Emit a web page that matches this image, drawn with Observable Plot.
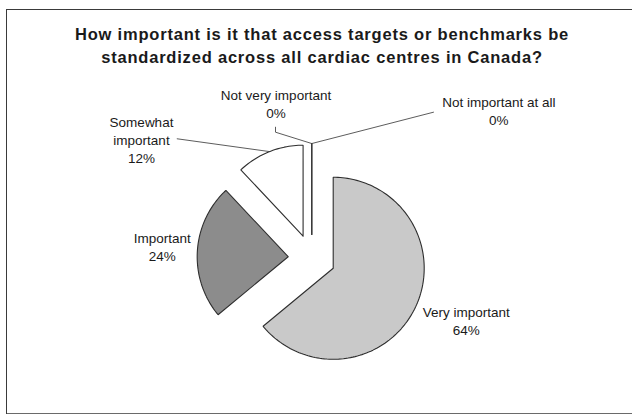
<!DOCTYPE html>
<html>
<head>
<meta charset="utf-8">
<script src="https://cdn.jsdelivr.net/npm/d3@7"></script>
<script src="https://cdn.jsdelivr.net/npm/@observablehq/plot@0.6"></script>
<style>
  html, body { margin: 0; padding: 0; background: #ffffff; overflow: hidden; }
  #page { position: relative; width: 632px; height: 417px; overflow: hidden; font-family: "Liberation Sans", Arial, sans-serif; }
  #hline-top { position: absolute; left: 6px; top: 9px; width: 1000px; height: 0; border-top: 1px solid #3a3a3a; }
  #hline-bottom { position: absolute; left: 6px; top: 413px; width: 1000px; height: 0; border-top: 1px solid #6a6a6a; }
  #vline { position: absolute; left: 6px; top: 9px; width: 0; height: 405px; border-left: 1px solid #3a3a3a; }
  #title { position: absolute; left: 6px; top: 23px; width: 632px; text-align: center; font-weight: bold; font-size: 16.5px; line-height: 23px; letter-spacing: 0.8px; color: #1a1a1a; }
  #chart { position: absolute; left: 0; top: 0; }
</style>
</head>
<body>
<div id="page">
  <div id="hline-top"></div>
  <div id="hline-bottom"></div>
  <div id="vline"></div>
  <div id="title">How important is it that access targets or benchmarks be<br>standardized across all cardiac centres in Canada?</div>
  <div id="chart"></div>
</div>
<script>
// ---- data ----
const categories = ["Very important", "Important", "Somewhat important", "Not very important", "Not important at all"];
const values = [64, 24, 12, 0, 0];
const labelTexts = ["Very important", "Important", "Somewhat\nimportant", "Not very important", "Not important at all"];
const shades = ["#c9c9c9", "#8c8c8c", "#ffffff", "#ffffff", "#ffffff"];

// ---- layout (pixels) ----
const W = 632, H = 417;
const cx = 311.3, cy = 257.7, R = 91;      // pie centre / radius in px
const explode = 0.26;                       // offset of each slice (in radii)
const labelPos = [[465.7, 319.5], [161.7, 246], [141, 139], [275.5, 103], [498.3, 110]];
const leaderStart = [null, null, [[176.7, 138.3]], [[275, 126.7], [275, 131.7]], [[433, 111.7]]];
const U = px => (px - cx) / R, V = py => (cy - py) / R;

// ---- build wedges from values ----
const total = d3.sum(values);
let cum = 0;
const wedgePts = [], tips = [];
categories.forEach((cat, i) => {
  const a0 = cum / total * 2 * Math.PI;
  cum += values[i];
  const a1 = cum / total * 2 * Math.PI;
  const mid = (a0 + a1) / 2;
  const ox = explode * Math.sin(mid), oy = explode * Math.cos(mid);
  wedgePts.push({cat, x: ox, y: oy});
  const n = Math.max(1, Math.ceil((a1 - a0) / (Math.PI / 120)));
  for (let k = 0; k <= n; k++) {
    const a = a0 + (a1 - a0) * k / n;
    wedgePts.push({cat, x: ox + Math.sin(a), y: oy + Math.cos(a)});
  }
  wedgePts.push({cat, x: ox, y: oy});
  tips.push({x: ox + Math.sin(mid), y: oy + Math.cos(mid)});
});

// leader lines: from label to the slice's outer mid-point
const leaders = [];
leaderStart.forEach((pts, i) => {
  if (!pts) return;
  pts.forEach(p => leaders.push({id: i, x: U(p[0]), y: V(p[1])}));
  leaders.push({id: i, x: tips[i].x, y: tips[i].y});
});

const labels = categories.map((c, i) => ({
  text: labelTexts[i] + "\n" + values[i] + "%",
  x: U(labelPos[i][0]), y: V(labelPos[i][1])
}));

const chart = Plot.plot({
  width: W, height: H, margin: 0,
  style: {background: "transparent", overflow: "visible"},
  x: {domain: [U(0), U(W)], axis: null},
  y: {domain: [V(H), V(0)], axis: null},
  color: {domain: categories, range: shades},
  marks: [
    Plot.line(leaders, {x: "x", y: "y", z: "id", stroke: "#4a4a4a", strokeWidth: 0.9, curve: "linear"}),
    Plot.line(wedgePts, {x: "x", y: "y", z: "cat", fill: "cat", stroke: "#2e2e2e", strokeWidth: 1.1, strokeLinejoin: "miter", curve: "linear"}),
    Plot.text(labels, {x: "x", y: "y", text: "text", fontSize: 13.5, lineHeight: 1.33, textAnchor: "middle", fontFamily: "Liberation Sans, Arial, sans-serif", fill: "#1a1a1a"})
  ]
});
document.getElementById("chart").appendChild(chart);
</script>
</body>
</html>
